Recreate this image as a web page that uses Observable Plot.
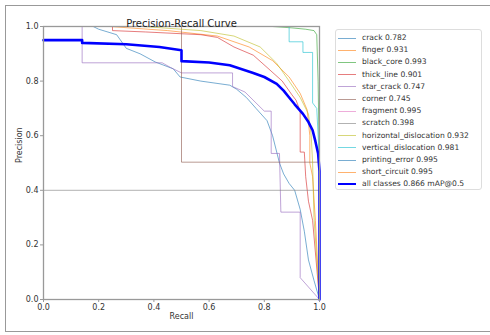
<!DOCTYPE html>
<html><head><meta charset="utf-8">
<script src="https://cdn.jsdelivr.net/npm/d3@7"></script>
<script src="https://cdn.jsdelivr.net/npm/@observablehq/plot@0.6"></script>
<style>
body{margin:0;background:#fff;font-family:"DejaVu Sans",sans-serif;}
#wrap{position:relative;width:490px;height:335px;overflow:hidden}
#chart{position:absolute;left:0;top:0}
#border{position:absolute;left:5px;top:5px;width:500px;height:327px;border:1px solid #999;box-sizing:border-box}
#legend{position:absolute;left:335px;top:29px;width:147px;height:161px;border:1px solid #ddd;border-radius:3px;background:#fff;box-sizing:border-box}
.row{position:absolute;left:0;height:12px;font-size:7.6px;color:#333;line-height:12px;white-space:nowrap}
.sw{position:absolute;left:2px;top:6px;width:18px;height:0}
.lab{position:absolute;left:26px;top:0}
</style>
</head><body>
<div id="wrap"><div id="chart"></div><div id="border"></div><div id="legend"></div></div>
<script>
const names = ["crack","finger","black_core","thick_line","star_crack","corner","fragment","scratch","horizontal_dislocation","vertical_dislocation","printing_error","short_circuit"];
const aps = [0.782,0.931,0.993,0.901,0.747,0.745,0.995,0.398,0.932,0.981,0.995,0.995];
const colors = ["#1f77b4","#ff7f0e","#2ca02c","#d62728","#9467bd","#8c564b","#e377c2","#7f7f7f","#bcbd22","#17becf","#1f77b4","#ff7f0e"];

const crack = [[0,1],[0.18,1],[0.2,0.99],[0.265,0.97],[0.3,0.92],[0.35,0.9],[0.405,0.87],[0.47,0.845],[0.495,0.815],[0.57,0.8],[0.675,0.785],[0.7,0.77],[0.735,0.74],[0.77,0.7],[0.81,0.655],[0.83,0.6],[0.855,0.5],[0.87,0.46],[0.89,0.425],[0.91,0.4],[0.93,0.33],[0.945,0.25],[0.96,0.145],[0.98,0.07],[1,0]];
const finger = [[0,1],[0.24,1],[0.45,0.985],[0.63,0.965],[0.745,0.925],[0.83,0.875],[0.89,0.815],[0.93,0.755],[0.955,0.695],[0.965,0.6],[0.965,0.5],[0.975,0.45],[0.985,0.29],[1,0]];
const blackCore = [[0,1],[0.83,1],[0.9,0.995],[0.95,0.99],[0.98,0.985],[0.99,0.97],[0.995,0.8],[1,0.45],[1,0]];
const thickLine = [[0,1],[0.25,1],[0.25,0.985],[0.37,0.98],[0.57,0.97],[0.63,0.96],[0.69,0.925],[0.76,0.895],[0.81,0.85],[0.865,0.8],[0.9,0.75],[0.915,0.73],[0.93,0.69],[0.93,0.54],[0.945,0.54],[0.95,0.45],[0.96,0.36],[0.975,0.29],[1,0]];
const starCrack = [[0,1],[0.14,1],[0.14,0.867],[0.43,0.867],[0.46,0.85],[0.5,0.83],[0.685,0.83],[0.685,0.78],[0.73,0.76],[0.77,0.72],[0.8,0.69],[0.825,0.69],[0.825,0.535],[0.855,0.535],[0.86,0.32],[0.93,0.32],[0.93,0.08],[1,0]];
const corner = [[0,1],[0.5,1],[0.5,0.503],[1,0.503],[1,0]];
const fragment = [[0,1],[1,1],[1,0]];
const scratch = [[0,0.4],[1,0.4],[1,0]];
const horizDisl = [[0,1],[0.36,1],[0.57,0.985],[0.69,0.965],[0.785,0.925],[0.845,0.865],[0.89,0.8],[0.93,0.74],[0.96,0.68],[0.97,0.6],[0.975,0.5],[0.98,0.3],[1,0]];
const vertDisl = [[0,1],[0.89,1],[0.89,0.944],[0.94,0.944],[0.94,0.905],[0.975,0.905],[0.975,0.72],[0.99,0.7],[1,0.5],[1,0]];
const printingError = [[0,1],[1,1],[1,0]];
const shortCircuit = [[0,1],[1,1],[1,0]];
const allClasses = [[0,0.95],[0.14,0.95],[0.14,0.94],[0.3,0.935],[0.42,0.925],[0.5,0.913],[0.5,0.873],[0.6,0.868],[0.675,0.858],[0.76,0.83],[0.8,0.815],[0.845,0.79],[0.87,0.765],[0.89,0.74],[0.91,0.715],[0.94,0.68],[0.96,0.65],[0.975,0.62],[0.985,0.58],[0.995,0.535],[1,0.47],[1,0]];
const allLabel = "all classes 0.866 mAP@0.5";
const ticks = [0,0.2,0.4,0.6,0.8,1.0];

const curves = [crack,finger,blackCore,thickLine,starCrack,corner,fragment,scratch,horizDisl,vertDisl,printingError,shortCircuit];

const lineMarks = curves.map((c,i)=>Plot.line(c,{x:d=>d[0],y:d=>d[1],stroke:colors[i],strokeWidth:1,strokeOpacity:0.6}));

const plot = Plot.plot({
  width:490,height:335,
  marginLeft:43,marginRight:171,marginTop:26,marginBottom:36,
  x:{domain:[0,1]},y:{domain:[0,1]},
  style:{fontFamily:"DejaVu Sans",background:"transparent"},
  marks:[
    ...lineMarks,
    Plot.line(allClasses,{x:d=>d[0],y:d=>d[1],stroke:"#0000ff",strokeWidth:2.6}),
    Plot.frame({stroke:"#999",strokeWidth:1.3}),
    Plot.axisX({ticks,tickFormat:d3.format(".1f"),tickSize:3,tickPadding:2,fontSize:8,label:null,stroke:"#999",fill:"#333"}),
    Plot.axisY({ticks,tickFormat:d3.format(".1f"),tickSize:3,tickPadding:2,fontSize:8,label:null,stroke:"#999",fill:"#333"}),
    Plot.text(["Precision-Recall Curve"],{frameAnchor:"top",dy:-7,fontSize:10,fill:"#222"}),
    Plot.text(["Recall"],{frameAnchor:"bottom",dy:19,fontSize:8,fill:"#333"}),
    Plot.text(["Precision"],{frameAnchor:"left",dx:-24,rotate:-90,fontSize:8,fill:"#333"})
  ]
});
document.getElementById("chart").appendChild(plot);

const leg = document.getElementById("legend");
const entries = names.map((n,i)=>({label:`${n} ${aps[i].toFixed(3)}`,color:colors[i],w:1,op:0.6}));
entries.push({label:allLabel,color:"#0000ff",w:2.6,op:1});
entries.forEach((e,i)=>{
  const r=document.createElement("div");
  r.className="row";
  r.style.top=(2+i*12.2)+"px";
  r.innerHTML=`<div class="sw" style="border-top:${e.w}px solid ${e.color};opacity:${e.op};margin-top:${-e.w/2}px"></div><span class="lab">${e.label}</span>`;
  leg.appendChild(r);
});
</script>
</body></html>
